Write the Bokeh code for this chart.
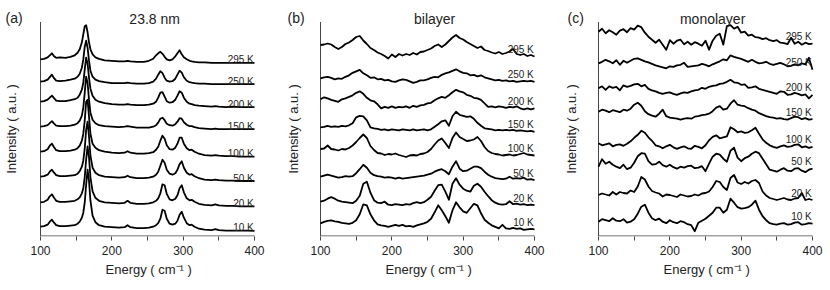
import math
from bokeh.plotting import figure
from bokeh.models import Range1d, FixedTicker, Title, ColumnDataSource
from bokeh.layouts import row
from bokeh.core.properties import value
from bokeh.embed import file_html
from bokeh.resources import INLINE

FONT = "Liberation Sans"
INK = "#222222"

temps = ["295 K", "250 K", "200 K", "150 K", "100 K", "50 K", "20 K", "10 K"]
panel_tags = ["(a)", "(b)", "(c)"]
panel_titles = ["23.8 nm", "bilayer", "monolayer"]
x_ticks = [100, 200, 300, 400]
x_minor = [150, 250, 350]

# ---------------- panel (a): 23.8 nm ----------------
energy_a = [100, 105, 110, 113, 116, 119, 122, 127, 135, 142,
            148, 152, 155, 158, 160, 162, 164, 166, 168, 170,
            173, 177, 182, 190, 200, 210, 218, 222, 226, 235,
            245, 252, 258, 262, 265, 268, 271, 274, 277, 281,
            285, 289, 292, 295, 298, 301, 305, 309, 312, 316,
            322, 330, 340, 345, 350, 360, 370, 380, 390, 400]

a_295 = [0, 0.5, 2, 4, 6, 3, 1.5, 2, 1.5, 2.5,
         4, 6.5, 10, 17, 25, 33, 34, 27, 17, 10,
         5, 2, 0.5, -1, -1.5, -2, -2, -1.5, -2, -2.5,
         -2.5, -1.5, 0.5, 4, 6, 7.5, 5.5, 2.5, 0, -1,
         0, 3, 6, 9, 5, 2, 0, -1.5, -2, -2.5,
         -3, -3, -3.5, -3.5, -3.5, -3.5, -3.5, -3.5, -3.5, -3.5]
a_250 = [0, 0.5, 2, 4.5, 7, 3.5, 1, 0.5, 1, 2,
         3, 5, 8, 14, 22, 35, 41, 34, 21, 11,
         5, 2, 0.5, -0.5, -1.5, -1.5, -1.5, -1, -1.5, -2,
         -2, -1.5, 0, 3, 7, 10.5, 8.5, 4, 1, 0,
         0.5, 3, 7, 11, 9, 4.5, 1, -0.5, -1, -1.5,
         -2, -2, -2.5, -2.5, -2.5, -2.5, -2.5, -2.5, -2.5, -2.5]
a_200 = [0, 0.5, 2, 4, 6, 3.5, 1, 0.5, 0.5, 1.5,
         2.5, 4, 7, 12, 19, 32, 44, 38, 24, 13,
         6, 2, 0, -1.5, -2.5, -3, -3, -2.5, -3, -3.5,
         -3.5, -3, -2, 0, 4, 9, 9.5, 5, 0.5, -1,
         -0.5, 2, 6, 10.5, 9, 4, 0, -2, -2.5, -3.5,
         -4, -4.5, -5, -4.5, -5, -5.5, -5, -5.5, -5.5, -5.5]
a_150 = [0, 0.5, 1.5, 3.5, 5.5, 3, 1, 0.5, 0.5, 1,
         2, 3.5, 6, 11, 19, 34, 50, 44, 27, 14,
         7, 3.5, 1.5, 0.5, 0, -0.5, 0, 0.5, 0, -1,
         -1, -1, 0, 1.5, 4, 8, 9, 6.5, 3, 1.5,
         1, 2.5, 5, 8.5, 8, 4.5, 2, 0.5, 0.5, -0.5,
         -1.5, -2, -2.5, -2, -2.5, -2.5, -2.5, -2.5, -2.5, -2.5]
a_100 = [0, 0.5, 2.5, 6, 8, 4.5, 1.5, 0.5, 0.5, 1,
         2, 3.5, 6, 11, 18, 31, 50, 52, 35, 18,
         8, 4, 1.5, 0, -1, -1.5, -1, 0.5, -1, -2,
         -2, -1.5, -0.5, 2, 5, 11, 16, 13, 6.5, 2.5,
         2, 4, 8, 14, 14, 8, 3.5, 1.5, 2, 0,
         -2, -3.5, -4, -3.5, -4, -4.5, -4.5, -5, -5, -5]
a_50 = [0, 0.5, 2, 5, 7, 4, 1.5, 0.5, 0.5, 1,
        1.5, 3, 5.5, 10, 16, 28, 47, 55, 40, 21,
        9, 4, 1.5, 0, -0.5, -1, -0.5, 1, -0.5, -1.5,
        -1.5, -1, 0, 2, 5, 11, 17, 14, 7, 3,
        2, 3.5, 7, 12.5, 15.5, 9, 4, 2, 2.5, 0.5,
        -1.5, -3, -3.5, -3, -3.5, -4, -4, -4.3, -4.3, -4.3]
a_20 = [0, 0.5, 2.5, 6, 8, 4.5, 1.5, 0.5, 0.5, 1,
        1.5, 3, 5, 9, 14, 25, 43, 56, 45, 25,
        11, 4.5, 1.5, 0, -0.5, -1, -0.5, 1.5, -0.5, -1.5,
        -1.5, -1, 0, 1.5, 4, 9, 18, 17, 8.5, 3,
        2, 3.5, 7, 14, 17, 10, 4, 2, 2.5, 0.5,
        -1.5, -2.5, -3, -2, -3, -3.5, -3.5, -4, -4, -4]
a_10 = [0, 0.5, 2, 5, 7, 4, 1.5, 0.5, 0.5, 1,
        1.5, 3, 5, 9, 14, 24, 42, 57, 46, 26,
        11, 4.5, 1.5, 0, -0.5, -1, -0.5, 1.5, -0.5, -1.5,
        -1.5, -1, 0, 1.5, 3.5, 8, 17, 16, 8, 3,
        2, 3, 6, 12, 15, 9, 3.5, 1.5, 2, 0,
        -2, -3, -3.5, -2.5, -3.5, -4, -4, -4, -4, -4.2]
stack_a = [176.7, 154.3, 134.3, 109.3, 84.3, 59.3, 33.7, 9.3]

# ---------------- panels (b), (c): shared energy grid ----------------
energy_bc = list(range(100, 405, 5))

b_295 = [0, 0.5, 1.5, 0.5, -2, -4, -2, 1, 2.5, 5,
         8, 9, 4.5, 1, -3, -5, -7.5, -9, -11, -13.5,
         -9.5, -12, -9, -10.5, -9, -10, -8, -9.5, -7, -6.5,
         -5, -3.5, -1, 0.5, -2, 0.5, 4, 7.5, 10, 7,
         5.5, 3, 1, -1, -3, -1.5, -5, -6, -7.5, -8.5,
         -7, -9, -8, -6.5, -4, -9, -10, -9, -11, -10, -11.5]
b_250 = [0, 1, 1.5, 0.5, -1, 0, -0.5, 1.5, 3, 5.5,
         7, 8.5, 5, 3, 0.5, 1, -1, -0.5, -2, -1.5,
         -3, -3.5, -2, -1, -1.5, -3, -4.5, -3.5, -2, -2,
         -1, 0.5, 1.5, 1, 3.5, 5, 6, 7.5, 9, 7,
         5.5, 5, 3, 3.5, 2, 3, 1, 0, -1, -2,
         -1.5, -2.5, -2, -3, -2.5, -3.5, -3, -2.5, -3, -2.5, -3.5]
b_200 = [0, 2, 1, -0.5, -1.5, -2.5, 0, 1, 2.5, 4,
         6.5, 8, 5.5, 1.5, -1, -2, -5, -9, -7.5, -8.5,
         -7, -8.5, -7.5, -8, -7, -8.5, -6.5, -7.5, -6, -5.5,
         -4, -3.5, -1, 1, 2.5, 1.5, 4, 7, 9.5, 8,
         7, 4.5, 3.5, 1.5, 1, -0.5, -4, -7.5, -7, -8,
         -7, -7.5, -8.5, -7.5, -8, -7, -9, -10, -9, -10, -9]
b_150 = [0, 0.5, 1.5, 0.5, 1, 0.5, 1.5, 1, 2, 4,
         10, 11.5, 11, 7, 0, -1, -1.5, -2.5, -2, -3,
         -2, -2.5, -3, -2, -2.5, -3, -2, -3, -2.5, -2,
         -3, -2, 0.5, 3, 6, 7, 1.5, 11, 15.5, 12.5,
         11.5, 10.5, 11, 8.5, 4.5, 1.5, -1, -1.5, -2, -3,
         -2.5, -3, -2.5, -3, -2.5, -3.5, -3, -3.5, -4, -3.5, -4.5]
b_100 = [0, 0.5, 3.5, 0, -0.5, -1.5, 0, -0.5, 1, 3.5,
         7, 11, 14.5, 11, 3, -1, -4, -4.5, -6, -5,
         -5.5, -4.5, -6, -7, -8, -6.5, -6, -6.5, -5, -4.5,
         -3, 0, 4.5, 8.5, 10.5, 6, 1, 11, 16.5, 12,
         10, 8, 8.5, 9.5, 12, 8, 2, -2, -4, -5,
         -5.5, -6.5, -6, -5.5, -6.5, -6, -5, -4, -5.5, -6, -6.5]
b_50 = [0, 1, 2, 1, 0, -1, -0.5, 0.5, 0, 0.5,
        3.5, 7.5, 12, 9, 4, 1.5, 0.5, 0, -1, -0.5,
        -1, -2, -1, -2, -1.5, -1, -0.5, 0, 0.5, 1,
        2, 3, 5, 6.5, 7.5, 5.5, 2.5, 10, 15.5, 8,
        5.5, 6, 8, 10, 10, 8.5, 5, 2, 0, -1.5,
        -2, -2.5, -2, 0, -2, -1.5, -2, -1, -3, -2.5, -3.5]
b_20 = [0, 1, 3, 4.5, 3, 1, 0, -0.5, -1, -1.5,
        1, 6, 18, 20, 9, 1.5, -1, -1.5, 0, -3,
        -3.5, -2.5, -3, -3.5, -2.5, -3, -1.5, -0.5, -1.5, -0.5,
        2, 5, 11, 16.5, 17, 10, 2, 18, 23.5, 17,
        13, 11, 10, 16, 18, 15, 10, 5.5, 1.5, -1,
        -2.5, -3, -2.5, 0.5, -2.5, -2, -3, -2.5, -3.5, -3, -3.5]
b_10 = [0, 1.5, 2.5, 3, 2, 1.5, 0.5, 0, -0.5, 0.5,
        3, 9, 19, 18, 9, 3, -1, -2, -2.5, -3.5,
        -2.5, -1.5, -2.5, -1.5, -3, -2.5, -3.5, -2, -1, 0,
        1.5, 4.5, 11, 18, 13, 7, 0.5, 13, 21, 16,
        12, 10.5, 15, 19.5, 18, 10, 3.5, 0.5, -2, -3.5,
        -5, -1.5, -5, -5.5, -4.5, -5.5, -5, -6.5, -6, -5.5, -6]
stack_b = [191.0, 157.7, 136.7, 108.7, 87.0, 59.3, 34.3, 12.7]

c_295 = [0, 3, -1.5, 1.5, -0.5, -3, 1, 2.5, -0.5, 3.5,
         2, 6, 4.5, -1, -5, -8, -11, -8, -13, -18,
         -8.5, -12, -9, -8, -12.5, -10, -13, -10.5, -12, -14,
         -9, -18, -9, -4, -2, -13, 5.5, 6.5, 3, 5,
         -1, 0, -4, -3, -5.5, -6, -7.5, -6.5, -8.5, -9.5,
         -8.5, -11, -11.5, -12.5, -6, -12, -10, -13, -11, -12.5, -12]
c_250 = [0, 1.5, 3.5, 2, 0, 3, -1.5, 2.5, 0.5, 2.5,
         4.5, 5, 3.5, 2, 1, -0.5, -2, -3, -4, -5,
         -3, -3.5, -2, -1.5, 0.5, -3.5, -3, -2.5, -2, -0.5,
         -1.5, -3, -1, 0.5, 2, 4, 3, 8, 6.5, 5.5,
         4.5, 3, 1.5, 3.5, 1.5, 0, 0.5, 1.5, -0.5, -1.5,
         -0.5, 0.5, -1, -3, -2.5, -1, -2, 0, -1, 5.5, -6.5]
c_200 = [0, 2, -1.5, 2, 0.5, 1.5, -2, 3, 1.5, 2.5,
         4, 4.5, 2, 3.5, -0.5, -2, -3, -4.5, -5.5, -4.5,
         -4, -5.5, -6.5, -5, -4, -4.5, -3, -2, -1.5, 0.5,
         -0.5, 1.5, 2.5, 3, 4.5, 5, 6.5, 8.5, 6, 5.5,
         3.5, 4, 0.5, 1, 2, -0.5, -1.5, -2.5, -3.5, -4.5,
         -5.5, -3, -3.5, -6.5, -6, -4.5, -5.5, -7, -6, -10, -6.5]
c_150 = [0, 2, 1, -0.5, 1.5, 0.5, -0.5, 2, 1, 3,
         7, 9, 6, 0.5, -2.5, -4, -5, -2, 2, -4.5,
         -6, -6.5, -7, -8, -7, -6.5, -7, -5, -4.5, -3.5,
         -3, -2, 0.5, 4, 5.5, 2, 3, 8, 11.5, 7,
         6, 5.5, 3.5, 2, 1, -1.5, -3, -4.5, -5.5, -6,
         -7, -6.5, -7.5, -8, -6.5, -5, -5.5, -7.5, -6.5, -8, -7.5]
c_100 = [0, -2, -1, 0, -3, -1.5, -1, -2.5, -0.5, 2,
         5.5, 8.5, 12.5, 10.5, 6, 2.5, -2, -3, -5, -3,
         -1.5, -4, -5.5, -4, -3, -5, -5.5, -2.5, -3.5, -5,
         -2, 3, 6.5, 8, 5, 6, 7, 16, 14, 11,
         12, 10.5, 11, 13, 15.5, 9.5, 4, 0.5, -2, -3.5,
         -4.5, -3, -2, -3.5, -3, -1.5, -1, -4, -3, -4.5, -3.5]
c_50 = [0, 7.5, 3, 5, 2, 0, -1.5, 2, -2.5, -1,
        4, 10.5, 13.5, 13, 5.5, 2, 2.5, 5, 1.5, 0,
        2, -0.5, -2, 0, -1, 0.5, 1, -1.5, -1, 0.5,
        -4.5, 3, 10, 13, 12, 8, 5, 16, 19, 9,
        5.5, 8.5, 10, 13, 15, 13.5, 8, 2.5, -3, -4,
        -5, -3, -1.5, -4, -4.5, -2, -1.5, -4, -5.5, -3, -2]
c_20 = [0, 1.5, 0.5, -0.5, 3, 0.5, 3, 2, 1.5, 4.5,
        3, 8.5, 18, 15.5, 8.5, 4, 2.5, 1.5, -1.5, 0.5,
        0, -1, -2, 0.5, -0.5, -1.5, -1, 0.5, -0.5, 1.5,
        2, 3.5, 8, 14, 13, 8, 5, 17, 20, 12.5,
        11, 13, 11.5, 14, 15, 12, 3.5, -0.5, -3, -4,
        -5, -4, -3, -4.5, -5, -3.5, -3, 2, -5, -4, -5]
c_10 = [0, 2.5, 1.5, 0.5, 3.5, 1, 0.5, 2.5, -1, 0,
        2.5, 8, 15, 17, 9, 3.5, 1.5, 3, 0, -1.5,
        1.5, -0.5, -1.5, 0.5, -0.5, -2.5, -3.5, -9.5, -1, 1,
        3, 6, 9, 14, 14, 9, 12, 23, 19, 14.5,
        13, 13.5, 14.5, 17, 21, 12, 5.5, 1.5, -1.5, -2.5,
        -3, -2, -1.5, -3, -2.5, -1, -0.5, -3, -2.5, -1.5, -2]
stack_c = [204.3, 172.7, 147.7, 124.3, 92.7, 69.3, 41.0, 14.3]

curves_a = [a_295, a_250, a_200, a_150, a_100, a_50, a_20, a_10]
curves_b = [b_295, b_250, b_200, b_150, b_100, b_50, b_20, b_10]
curves_c = [c_295, c_250, c_200, c_150, c_100, c_50, c_20, c_10]
for ys in curves_a:
    assert len(ys) == len(energy_a)
for ys in curves_b + curves_c:
    assert len(ys) == len(energy_bc)

# ---------------- layout constants (screen pixels) ----------------
PLOT_W = 214          # width of the 100..400 region
PLOT_H = 214          # height of the intensity region
LEFT_PAD = 40         # room for y label and panel tag
TOP_PAD = 22          # room for the title
BOTTOM = 52           # room for the energy axis
PX = 300.0 / PLOT_W   # energy units per pixel


def make_panel(tag, title, energy, curves, stack, label_gap, width,
               ylab_dx, tag_dx):
    right_pad = width - LEFT_PAD - PLOT_W
    p = figure(width=width, height=PLOT_H + TOP_PAD + BOTTOM,
               output_backend="svg", toolbar_location=None,
               y_axis_location=None,
               x_range=Range1d(100 - LEFT_PAD * PX, 400 + right_pad * PX),
               y_range=Range1d(-0.5, PLOT_H + TOP_PAD - 0.5),
               min_border_left=0, min_border_right=0,
               min_border_top=0, min_border_bottom=BOTTOM)
    p.outline_line_color = None
    p.grid.visible = False
    p.background_fill_color = "white"
    p.border_fill_color = "white"

    # axis spines (left and bottom) of the 100..400 plotting region
    p.segment(x0=[100, 100], y0=[0, 0], x1=[100, 400], y1=[PLOT_H, 0],
              line_color="#444444", line_width=1)

    for ys, off in zip(curves, stack):
        p.line(energy, [v + off for v in ys], line_color="black",
               line_width=1.8, line_join="round")

    lab_src = ColumnDataSource(dict(
        x=[399] * len(temps),
        y=[off + ys[-1] + label_gap for ys, off in zip(curves, stack)],
        t=temps))
    p.text(x="x", y="y", text="t", source=lab_src,
           text_font=value(FONT), text_font_size="10px",
           text_align="right", text_baseline="alphabetic",
           text_color=INK)

    # titles, panel tag, y label
    p.text(x=[260], y=[PLOT_H + 3], text=[title], text_font=value(FONT),
           text_font_size="14px", text_align="center",
           text_baseline="alphabetic", text_color=INK)
    p.text(x=[100 + tag_dx * PX], y=[PLOT_H + 4], text=[tag],
           text_font=value(FONT), text_font_size="14px", text_align="left",
           text_baseline="alphabetic", text_color=INK)
    p.text(x=[100 + ylab_dx * PX], y=[PLOT_H / 2], text=["Intensity ( a.u. )"],
           angle=math.pi / 2, text_font=value(FONT), text_font_size="13px",
           text_align="center", text_baseline="middle", text_color=INK)

    xa = p.xaxis[0]
    xa.ticker = FixedTicker(ticks=x_ticks, minor_ticks=x_minor)
    xa.axis_line_color = None
    xa.major_label_text_font = FONT
    xa.major_label_text_font_size = "12px"
    xa.major_label_text_color = INK
    xa.major_label_standoff = 5
    xa.major_tick_out = 4
    xa.major_tick_in = 0
    xa.minor_tick_out = 4
    xa.minor_tick_in = 0
    xa.major_tick_line_color = "#444444"
    xa.minor_tick_line_color = "#444444"

    p.add_layout(Title(text="Energy ( cm\u207b\u00b9 )", align="left",
                       offset=LEFT_PAD + 65, standoff=4,
                       text_font=FONT, text_font_size="13px",
                       text_font_style="normal", text_color=INK), "below")
    return p


pa = make_panel(panel_tags[0], panel_titles[0], energy_a, curves_a, stack_a,
                3, 280, -29, -35)
pb = make_panel(panel_tags[1], panel_titles[1], energy_bc, curves_b, stack_b,
                7, 278, -27, -33)
pc = make_panel(panel_tags[2], panel_titles[2], energy_bc, curves_c, stack_c,
                7, 268, -27, -31)

layout = row(pa, pb, pc)
open("out.html", "w").write(file_html(layout, INLINE))
